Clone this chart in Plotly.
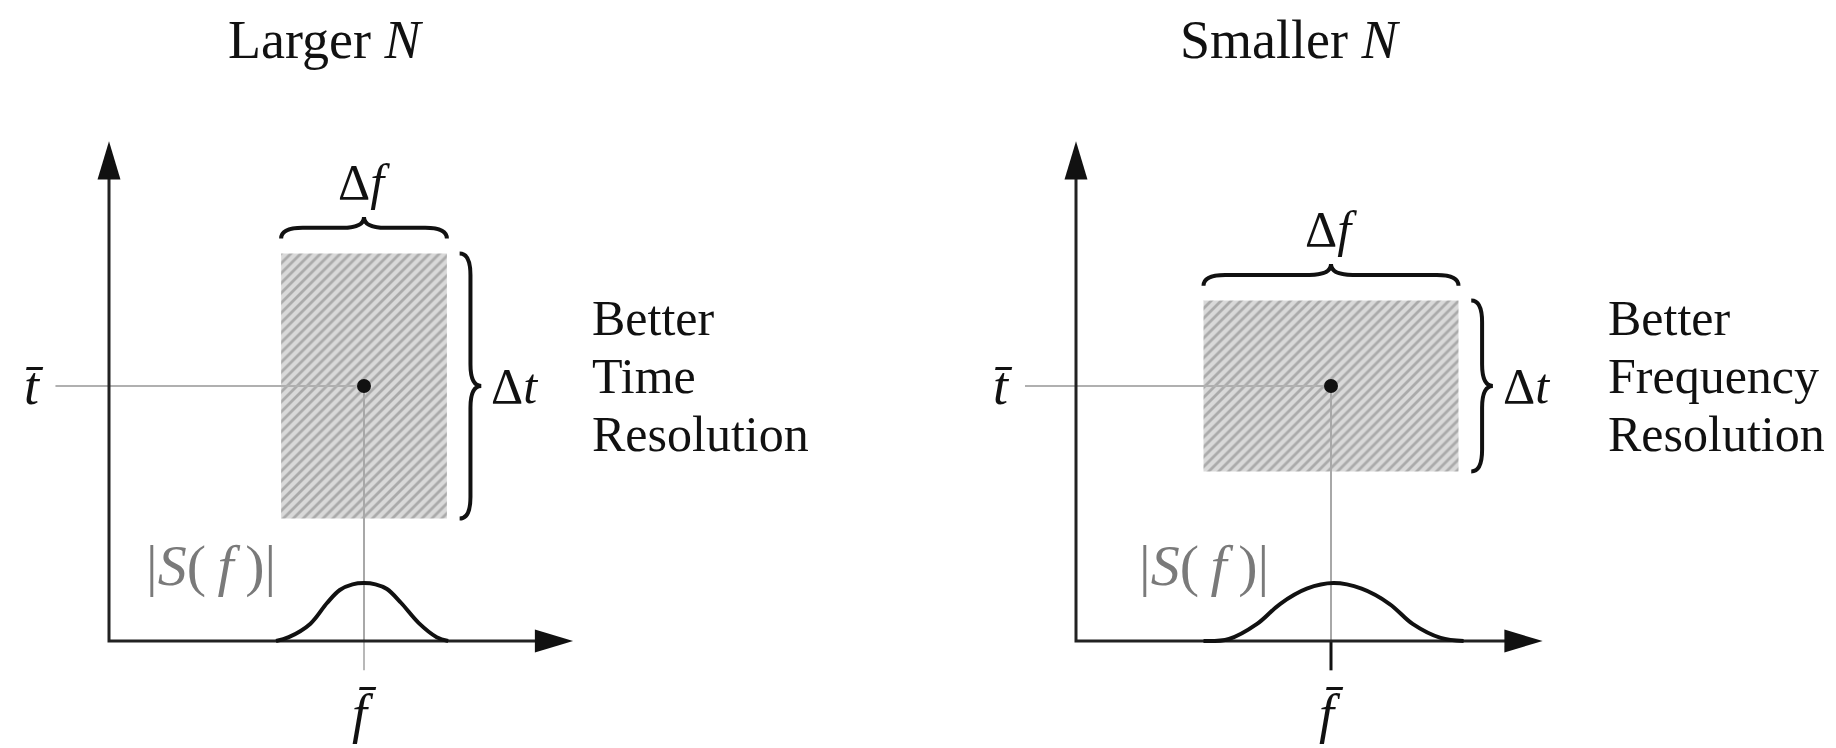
import plotly.graph_objects as go

# ---------------- data (abstract frequency / time units) ----------------
panel_titles = ["Larger <i>N</i>", "Smaller <i>N</i>"]
f_bar = [10.0, 10.0]            # centre frequency of each panel
t_bar = [10.0, 10.0]            # centre time of each panel
delta_f = [6.5, 10.0]           # width of the resolution cell
delta_t = [10.4, 6.7]           # height of the resolution cell
res_labels = [["Better", "Time", "Resolution"],
              ["Better", "Frequency", "Resolution"]]

# spectrum magnitude |S(f)|
spec_f_left = [6.55, 7.05, 7.9, 8.55, 9.05, 9.55, 10.0, 10.45, 10.9, 11.45, 12.15, 12.85, 13.3]
spec_a_left = [0.0, 0.15, 0.68, 1.49, 2.0, 2.22, 2.27, 2.22, 2.04, 1.5, 0.7, 0.15, 0.0]
spec_f_right = [5.0, 6.0, 7.1, 8.0, 9.05, 10.1, 11.2, 12.3, 13.2, 14.3, 15.2]
spec_a_right = [0.0, 0.08, 0.67, 1.45, 2.05, 2.27, 2.05, 1.45, 0.67, 0.12, 0.0]
spec_f = [spec_f_left, spec_f_right]
spec_a = [spec_a_left, spec_a_right]

# ---------------- layout helpers ----------------
W, H = 1836, 748
U = 25.5                      # px per unit
origins_px = [(109, 641), (1076, 641)]
axis_len_f = [18.2, 18.3]
axis_len_t = 19.6
FONT = "Liberation Serif, Times New Roman, Times, serif"
BLACK = "#111111"

# per-panel label placement (layout, not data)
place = [
    dict(title_f=8.5, tlab_f=-2.95, hline_f=-2.1, slab_f=4.0, text_off=5.6),
    dict(title_f=8.4, tlab_f=-2.85, hline_f=-2.0, slab_f=5.0, text_off=5.8),
]

fig = go.Figure()
shapes = []
annotations = []

def brace_h(x0, x1, y, h):
    xm = (x0 + x1) / 2
    q = min(h, (x1 - x0) / 4)
    ym, yt = y + h / 2, y + h
    return (f"M {x0:.3f},{y:.3f} Q {x0:.3f},{ym:.3f} {x0+q:.3f},{ym:.3f} "
            f"L {xm-q:.3f},{ym:.3f} Q {xm:.3f},{ym:.3f} {xm:.3f},{yt:.3f} "
            f"Q {xm:.3f},{ym:.3f} {xm+q:.3f},{ym:.3f} L {x1-q:.3f},{ym:.3f} "
            f"Q {x1:.3f},{ym:.3f} {x1:.3f},{y:.3f}")

def brace_v(y0, y1, x, d):
    ym = (y0 + y1) / 2
    q = min(d, (y1 - y0) / 4)
    xm, xt = x + d / 2, x + d
    return (f"M {x:.3f},{y1:.3f} Q {xm:.3f},{y1:.3f} {xm:.3f},{y1-q:.3f} "
            f"L {xm:.3f},{ym+q:.3f} Q {xm:.3f},{ym:.3f} {xt:.3f},{ym:.3f} "
            f"Q {xm:.3f},{ym:.3f} {xm:.3f},{ym-q:.3f} L {xm:.3f},{y0+q:.3f} "
            f"Q {xm:.3f},{y0:.3f} {x:.3f},{y0:.3f}")

for i in range(2):
    xa = "x" if i == 0 else "x2"
    ya = "y" if i == 0 else "y2"
    p = place[i]
    fc, tc = f_bar[i], t_bar[i]
    f0, f1 = fc - delta_f[i] / 2, fc + delta_f[i] / 2
    t0, t1 = tc - delta_t[i] / 2, tc + delta_t[i] / 2

    # hatched resolution cell
    fig.add_trace(go.Scatter(
        x=[f0, f1, f1, f0, f0], y=[t0, t0, t1, t1, t0], xaxis=xa, yaxis=ya,
        mode="lines", line=dict(width=0), fill="toself", fillcolor="#d6d6d6",
        fillpattern=dict(shape="/", size=7, solidity=0.4,
                         fgcolor="#7c7c7c", bgcolor="#d9d9d9"),
        hoverinfo="skip", showlegend=False))

    # guide lines
    fig.add_trace(go.Scatter(x=[p["hline_f"], fc], y=[tc, tc], xaxis=xa, yaxis=ya,
                             mode="lines", line=dict(color="#b0b0b0", width=2),
                             hoverinfo="skip", showlegend=False))
    fig.add_trace(go.Scatter(x=[fc, fc], y=[tc, 0], xaxis=xa, yaxis=ya,
                             mode="lines", line=dict(color="#a8a8a8", width=2),
                             hoverinfo="skip", showlegend=False))
    fig.add_trace(go.Scatter(x=[fc, fc], y=[0, -1.15], xaxis=xa, yaxis=ya,
                             mode="lines",
                             line=dict(color=("#b8b8b8" if i == 0 else BLACK),
                                       width=(2 if i == 0 else 3)),
                             hoverinfo="skip", showlegend=False))

    # coordinate axes
    fig.add_trace(go.Scatter(x=[0, 0, axis_len_f[i] - 0.3], y=[axis_len_t - 0.3, 0, 0],
                             xaxis=xa, yaxis=ya, mode="lines",
                             line=dict(color="#222222", width=3),
                             hoverinfo="skip", showlegend=False))
    L, Wd = 1.5, 0.45
    shapes.append(dict(type="path", xref=xa, yref=ya, layer="above",
                       path=f"M 0,{axis_len_t} L {-Wd},{axis_len_t-L} L {Wd},{axis_len_t-L} Z",
                       fillcolor="#111111", line=dict(width=0)))
    af = axis_len_f[i]
    shapes.append(dict(type="path", xref=xa, yref=ya, layer="above",
                       path=f"M {af},0 L {af-L},{-Wd} L {af-L},{Wd} Z",
                       fillcolor="#111111", line=dict(width=0)))

    # spectrum
    fig.add_trace(go.Scatter(x=spec_f[i], y=spec_a[i], xaxis=xa, yaxis=ya,
                             mode="lines", line=dict(color=BLACK, width=4,
                                                     shape="spline", smoothing=1.0),
                             hoverinfo="skip", showlegend=False))

    # centre dot
    fig.add_trace(go.Scatter(x=[fc], y=[tc], xaxis=xa, yaxis=ya, mode="markers",
                             marker=dict(color=BLACK, size=14),
                             hoverinfo="skip", showlegend=False))

    # braces
    shapes.append(dict(type="path", xref=xa, yref=ya, layer="above",
                       path=brace_h(f0, f1, t1 + 0.58, 0.85),
                       line=dict(color=BLACK, width=4)))
    shapes.append(dict(type="path", xref=xa, yref=ya, layer="above",
                       path=brace_v(t0, t1, f1 + 0.5, 0.85),
                       line=dict(color=BLACK, width=4)))

    def ann(x, y, text, size=50, color=BLACK, xanchor="center"):
        annotations.append(dict(x=x, y=y, xref=xa, yref=ya, text=text,
                                showarrow=False, xanchor=xanchor, yanchor="middle",
                                font=dict(family=FONT, size=size, color=color)))

    ann(p["title_f"], 23.55, panel_titles[i], size=54)
    ann(fc, t1 + 2.8, "Δ<i>f</i>")
    ann(f1 + 2.65, tc, "Δ<i>t</i>")
    ann(p["tlab_f"], tc, "<i>t\u0304</i>", size=54)
    ann(fc, -2.85, "<i>f\u0304</i>", size=54)
    ann(p["slab_f"], 2.95, "|<i>S</i>(\u2009<i>f</i>\u2009)|", size=58, color="#7a7a7a")
    for k, line_txt in enumerate(res_labels[i]):
        ann(f1 + p["text_off"], tc + 2.67 - 2.27 * k, line_txt, xanchor="left")

x_ranges = []
for i, (ox, oy) in enumerate(origins_px):
    left_px = 0 if i == 0 else W / 2
    right_px = W / 2 if i == 0 else W
    x_ranges.append([(left_px - ox) / U, (right_px - ox) / U])
y_range = [-(H - 641) / U, 641 / U]

axis_common = dict(visible=False, showgrid=False, zeroline=False, fixedrange=True)
fig.update_layout(
    width=W, height=H, autosize=False,
    margin=dict(l=0, r=0, t=0, b=0, pad=0),
    paper_bgcolor="white", plot_bgcolor="white",
    xaxis=dict(domain=[0, 0.5], range=x_ranges[0], **axis_common),
    yaxis=dict(domain=[0, 1], range=y_range, **axis_common),
    xaxis2=dict(domain=[0.5, 1], range=x_ranges[1], anchor="y2", **axis_common),
    yaxis2=dict(domain=[0, 1], range=y_range, anchor="x2", **axis_common),
    shapes=shapes, annotations=annotations, showlegend=False,
)

fig.write_html("out.html")
